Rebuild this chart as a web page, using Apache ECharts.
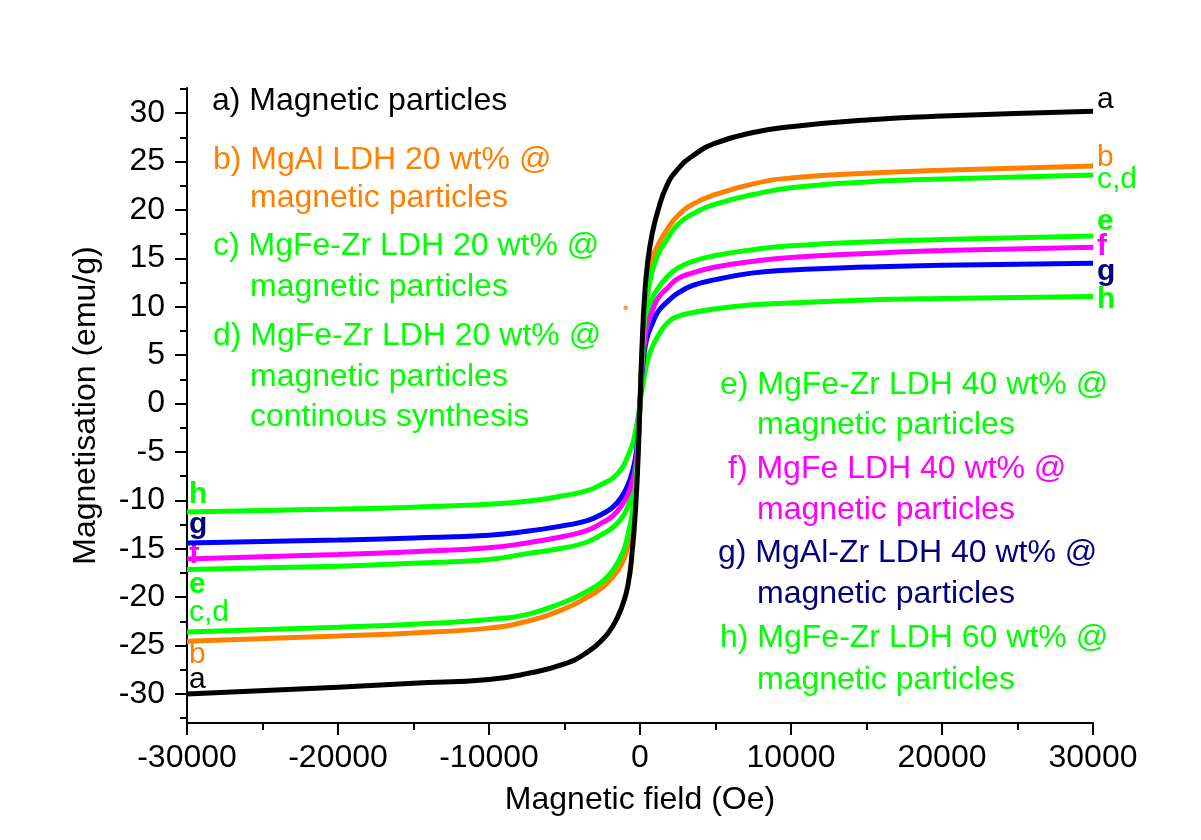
<!DOCTYPE html>
<html>
<head>
<meta charset="utf-8">
<script src="https://cdn.jsdelivr.net/npm/echarts@6/dist/echarts.min.js"></script>
<style>html,body{margin:0;padding:0;background:#fff}#c{width:1201px;height:840px}</style>
</head>
<body>
<div id="c"></div>
<script>
// Field values (Oe)
const field = [-30000,-20000,-15000,-10000,-7500,-5000,-3500,-2500,-1800,-1200,-800,-500,-300,-150,0,150,300,500,800,1200,1800,2500,3500,5000,7500,10000,15000,20000,30000];
// Magnetisation (emu/g)
const magA = [-30.0,-29.3,-28.9,-28.5,-27.9,-26.9,-25.7,-24.4,-23.0,-21.0,-18.8,-15.0,-11.0,-6.5,0,6.5,11.0,14.5,17.5,20.0,22.6,24.2,25.6,26.9,28.0,28.6,29.3,29.7,30.2];
const magB = [-24.55,-24.0,-23.7,-23.2,-22.5,-21.2,-20.0,-19.0,-17.9,-16.5,-14.7,-12.5,-9.5,-5.5,0,5.5,9.5,12.5,14.9,16.4,18.0,19.4,20.6,21.6,22.7,23.3,23.8,24.1,24.55];
const magCD = [-23.6,-23.1,-22.8,-22.3,-21.8,-20.5,-19.4,-18.4,-17.2,-15.6,-13.6,-11.2,-8.5,-5.0,0,5.0,8.5,11.2,13.6,15.4,17.0,18.5,19.6,20.6,21.6,22.3,22.9,23.2,23.6];
const magE = [-17.15,-16.8,-16.5,-16.1,-15.5,-14.9,-14.3,-13.5,-12.8,-11.8,-10.6,-9.2,-7.8,-5.0,0,5.0,7.4,9.2,10.8,11.9,13.1,14.0,14.7,15.3,15.9,16.3,16.7,16.95,17.3];
const magF = [-16.05,-15.6,-15.3,-14.9,-14.4,-13.7,-13.1,-12.3,-11.6,-10.5,-9.4,-8.0,-6.5,-4.2,0,4.2,6.3,8.2,9.5,10.9,11.9,12.9,13.5,14.1,14.7,15.1,15.5,15.8,16.15];
const magG = [-14.4,-14.1,-13.9,-13.6,-13.2,-12.6,-12.1,-11.4,-10.7,-9.6,-8.4,-7.0,-5.6,-3.6,0,3.6,5.5,7.0,8.2,9.5,10.5,11.4,12.2,12.8,13.5,13.8,14.1,14.3,14.5];
const magH = [-11.2,-10.9,-10.7,-10.4,-10.1,-9.5,-9.0,-8.3,-7.7,-6.7,-5.4,-4.2,-2.9,-1.6,0,1.6,2.9,4.5,5.8,7.0,8.3,9.0,9.4,9.8,10.2,10.4,10.7,10.85,11.05];
const strayPoint = [[-950, 9.9]];

const yMajorTicks = [-30,-25,-20,-15,-10,-5,0,5,10,15,20,25,30];
const yMinorTicks = [-32.5,-27.5,-22.5,-17.5,-12.5,-7.5,-2.5,2.5,7.5,12.5,17.5,22.5,27.5,32.5];

const FONT = 'Liberation Sans, Arial, sans-serif';
const C = {black:'#000000', orange:'#FF8000', green:'#00FF00', magenta:'#FF00FF', blue:'#0000FF', navy:'#000080'};

function pts(ys){ return field.map((x,i)=>[x, ys[i]]); }
function line(name, ys, color, z){
  return {name, type:'line', data:pts(ys), xAxisIndex:0, yAxisIndex:0, showSymbol:false, symbol:'none',
    smooth:0.5, lineStyle:{color, width:5}, z:z||2, animation:false};
}

function txt(text, x, y, color, size, bold){
  return {type:'text', x, y, silent:true, style:{text, fill:color, fontSize:size||32, fontFamily:FONT,
    fontWeight: bold?'bold':'normal', verticalAlign:'middle', align:'left'}};
}

const annotations = [
  txt('a) Magnetic particles', 212, 101, C.black),
  txt('b) MgAl LDH 20 wt% @', 213, 160, C.orange),
  txt('magnetic particles', 250, 198, C.orange),
  txt('c) MgFe-Zr LDH 20 wt% @', 213, 246, C.green),
  txt('magnetic particles', 250, 287, C.green),
  txt('d) MgFe-Zr LDH 20 wt% @', 213, 336, C.green),
  txt('magnetic particles', 250, 377, C.green),
  txt('continous synthesis', 250, 417, C.green),
  txt('e) MgFe-Zr LDH 40 wt% @', 720, 385, C.green),
  txt('magnetic particles', 757, 425, C.green),
  txt('f) MgFe LDH 40 wt% @', 728, 469, C.magenta),
  txt('magnetic particles', 757, 510, C.magenta),
  txt('g) MgAl-Zr LDH 40 wt% @', 718, 553, C.navy),
  txt('magnetic particles', 757, 594, C.navy),
  txt('h) MgFe-Zr LDH 60 wt% @', 720, 638, C.green),
  txt('magnetic particles', 757, 680, C.green),
  // right end labels
  txt('a', 1097, 100, C.black, 30),
  txt('b', 1097, 158, C.orange, 30),
  txt('c,d', 1097, 180, C.green, 30),
  txt('e', 1097, 222, C.green, 30, true),
  txt('f', 1097, 247, C.magenta, 30, true),
  txt('g', 1097, 272, C.navy, 30, true),
  txt('h', 1097, 300, C.green, 30, true),
  // left end labels
  txt('h', 189, 495, C.green, 30, true),
  txt('g', 189, 525, C.navy, 30, true),
  txt('f', 189, 555, C.magenta, 30, true),
  txt('e', 189, 585, C.green, 30, true),
  txt('c,d', 189, 613, C.green, 30),
  txt('b', 189, 655, C.orange, 30),
  txt('a', 189, 680, C.black, 30)
];

const chart = echarts.init(document.getElementById('c'), null, {renderer:'canvas'});
chart.setOption({
  backgroundColor:'#ffffff',
  animation:false,
  grid:{left:187, right:108, top:88, bottom:117, containLabel:false},
  xAxis:[{
    type:'value', min:-30000, max:30000, interval:10000,
    name:'Magnetic field (Oe)', nameLocation:'middle', nameGap:61,
    nameTextStyle:{fontSize:32, fontFamily:FONT, color:'#000'},
    axisLine:{show:true, onZero:false, lineStyle:{color:'#000', width:2}},
    axisTick:{show:true, inside:false, length:12, lineStyle:{color:'#000', width:2}},
    minorTick:{show:true, splitNumber:2, length:7, lineStyle:{color:'#000', width:2}},
    axisLabel:{fontSize:32, fontFamily:FONT, color:'#000', margin:19, formatter:(v)=>String(v)},
    splitLine:{show:false}, minorSplitLine:{show:false}
  }],
  yAxis:[{
    type:'value', min:-33, max:32.6,
    name:'Magnetisation (emu/g)', nameLocation:'middle', nameGap:85, nameRotate:90,
    nameTextStyle:{fontSize:32, fontFamily:FONT, color:'#000'},
    axisLine:{show:true, onZero:false, lineStyle:{color:'#000', width:2}},
    axisTick:{show:true, length:12, customValues:yMajorTicks, lineStyle:{color:'#000', width:2}},
    axisLabel:{fontSize:32, fontFamily:FONT, color:'#000', margin:22, customValues:yMajorTicks, formatter:(v)=>String(v)},
    splitLine:{show:false}
  },{
    type:'value', min:-33, max:32.6, position:'left',
    axisLine:{show:false, onZero:false},
    axisTick:{show:true, length:7, customValues:yMinorTicks, lineStyle:{color:'#000', width:2}},
    axisLabel:{show:false, customValues:yMinorTicks},
    splitLine:{show:false}
  }],
  series:[
    line('h', magH, C.green, 2),
    line('g', magG, C.blue, 3),
    line('f', magF, C.magenta, 4),
    line('e', magE, C.green, 3),
    line('c,d', magCD, C.green, 5),
    line('b', magB, C.orange, 4),
    line('a', magA, C.black, 6),
    {type:'scatter', data:strayPoint, symbol:'rect', symbolSize:4, itemStyle:{color:C.orange}, silent:true}
  ],
  graphic:annotations
});
</script>
</body>
</html>
